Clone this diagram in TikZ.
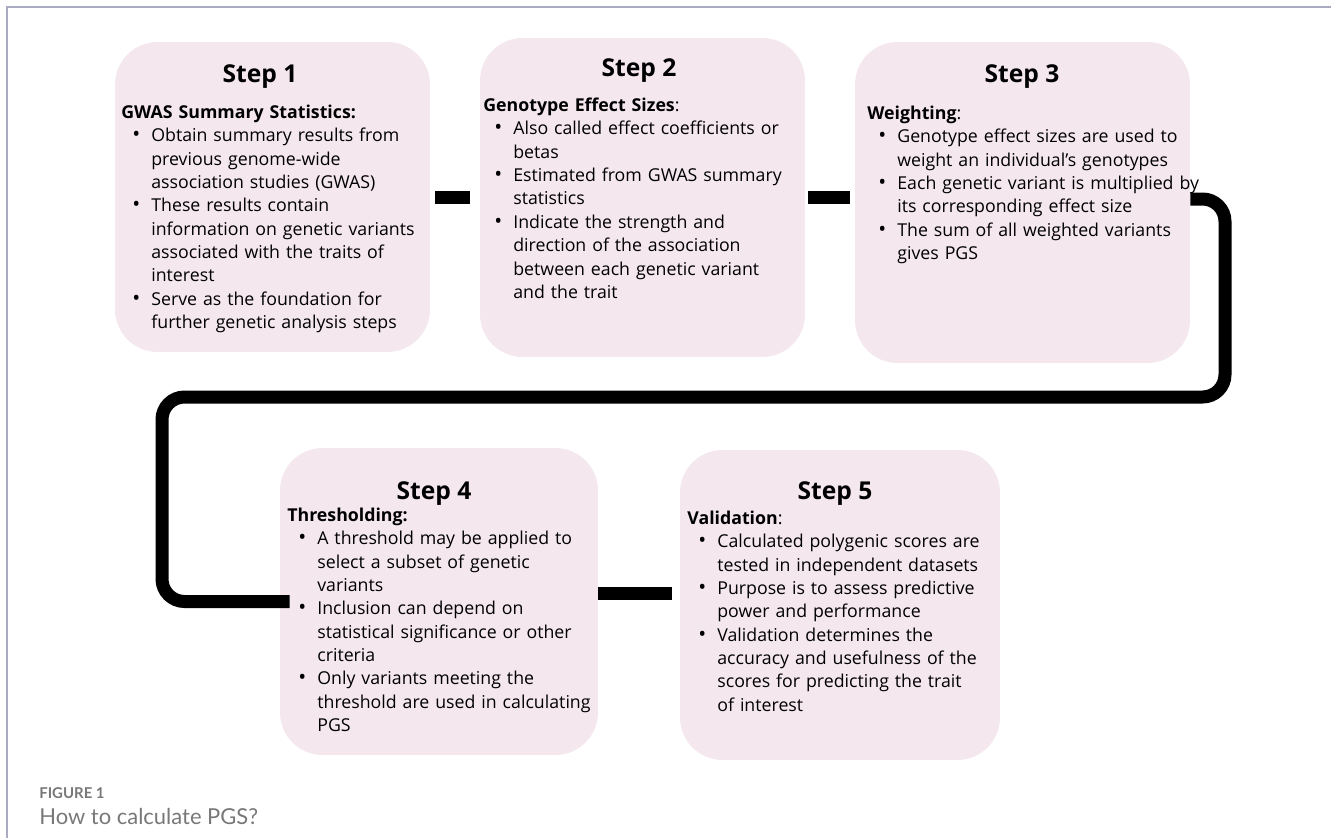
\documentclass[tikz,border=0pt]{standalone}
\usepackage{fontspec}
\setmainfont{Open Sans}
\newfontfamily\capfont{Lato}
\usepackage{enumitem}
\setlist[itemize]{label={\fontsize{12}{10}\selectfont\textbullet}, leftmargin=0.6cm, labelsep=0.22cm, topsep=0pt, partopsep=0pt, itemsep=0pt, parsep=0pt}
\usetikzlibrary{positioning,calc}
\definecolor{stepfill}{RGB}{244,231,238}
\definecolor{framegray}{RGB}{170,170,192}
\definecolor{capgray}{RGB}{120,120,120}

\begin{document}
\begin{tikzpicture}[x=0.02cm, y=-0.02cm,
    stepbox/.style={fill=stepfill, rounded corners=0.85cm, inner sep=0pt},
    steptitle/.style={anchor=base, inner sep=0pt, font=\bfseries\fontsize{14}{16}\selectfont},
    stepbody/.style={anchor=north west, inner sep=0pt, text width=7cm, align=left, font=\fontsize{10.1}{13.3}\selectfont},
    link/.style={line width=0.26cm},
    turnlink/.style={line width=0.26cm, rounded corners=0.45cm}]
    \useasboundingbox (0,0) rectangle (1331,838);
    \draw [framegray, line width=0.03cm] (7,838) -- (7,7) -- (1331,7);

    \node [stepbox, minimum width=6.3cm, minimum height=6.2cm] (s1) at (272.5,197) {};
    \node [stepbox, minimum width=6.5cm, minimum height=6.38cm] (s2) at (642.5,197.5) {};
    \node [stepbox, minimum width=6.7cm, minimum height=6.42cm] (s3) at (1022.5,202.5) {};
    \node [stepbox, minimum width=6.36cm, minimum height=6.14cm] (s4) at (439,601.5) {};
    \node [stepbox, minimum width=6.4cm, minimum height=6.2cm] (s5) at (840,605) {};

    \draw [link, shorten <=0.1cm, shorten >=0.2cm] (s1.east) -- (s1.east -| s2.west);
    \draw [link, shorten <=0.06cm, shorten >=0.1cm] (s2.east) -- (s2.east -| s3.west);
    \coordinate (turnR) at (1225,397);
    \coordinate (turnL) at (162,397);
    \draw [turnlink, shorten >=-0.2cm] ([yshift=0.07cm]s3.east) -| (turnR) -- (turnL) |- (s4.west);
    \draw [link, shorten >=0.16cm] ($(s4.east)+(0,-8.5)$) -- ($(s4.east -| s5.west)+(0,-8.5)$);

    \node [steptitle] (t1) at (260,83) {Step 1};
    \node [steptitle] (t2) at (639,77) {Step 2};
    \node [steptitle] (t3) at (1022,83) {Step 3};
    \node [steptitle] (t4) at (434,499) {Step 4};
    \node [steptitle] (t5) at (835,499) {Step 5};

    \node [stepbody] (b1) at (121,104.5) {\textbf{GWAS Summary Statistics:}
      \begin{itemize}
        \item Obtain summary results from\\ previous genome-wide\\ association studies (GWAS)
        \item These results contain\\ information on genetic variants\\ associated with the traits of\\ interest
        \item Serve as the foundation for\\ further genetic analysis steps
      \end{itemize}};
    \node [stepbody] (b2) at (483,97.5) {\textbf{Genotype Effect Sizes}:
      \begin{itemize}
        \item Also called effect coefficients or\\ betas
        \item Estimated from GWAS summary\\ statistics
        \item Indicate the strength and\\ direction of the association\\ between each genetic variant\\ and the trait
      \end{itemize}};
    \node [stepbody] (b3) at (867,105.5) {\textbf{Weighting}:
      \begin{itemize}
        \item Genotype effect sizes are used to\\ weight an individual's genotypes
        \item Each genetic variant is multiplied by\\ its corresponding effect size
        \item The sum of all weighted variants\\ gives PGS
      \end{itemize}};
    \node [stepbody] (b4) at (287,507.5) {\textbf{Thresholding:}
      \begin{itemize}
        \item A threshold may be applied to\\ select a subset of genetic\\ variants
        \item Inclusion can depend on\\ statistical significance or other\\ criteria
        \item Only variants meeting the\\ threshold are used in calculating\\ PGS
      \end{itemize}};
    \node [stepbody] (b5) at (687,510.5) {\textbf{Validation}:
      \begin{itemize}
        \item Calculated polygenic scores are\\ tested in independent datasets
        \item Purpose is to assess predictive\\ power and performance
        \item Validation determines the\\ accuracy and usefulness of the\\ scores for predicting the trait\\ of interest
      \end{itemize}};

    \node [anchor=base west, inner sep=0pt, text=capgray, font=\capfont\bfseries\fontsize{8.5}{10}\selectfont] (fig) at (39,798) {FIGURE 1};
    \node [anchor=base west, inner sep=0pt, text=capgray, font=\capfont\fontsize{12.5}{14}\selectfont] (cap) at (39,824) {How to calculate PGS?};
\end{tikzpicture}
\end{document}
